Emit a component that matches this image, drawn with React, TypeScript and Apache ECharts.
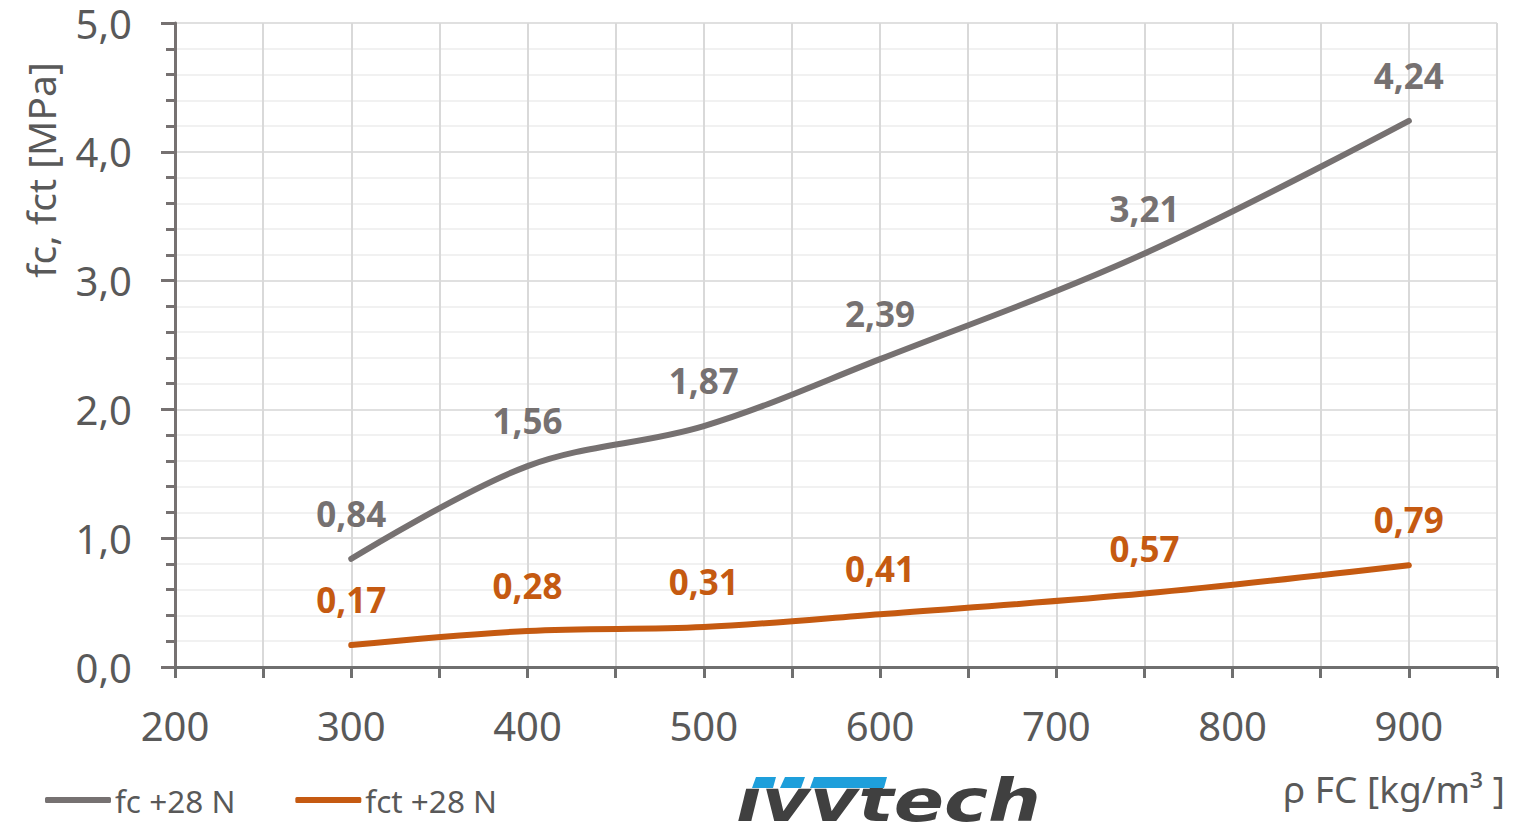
import React, { useEffect, useRef } from "react";
import * as echarts from "echarts";

const xValues = [300, 400, 500, 600, 750, 900];
const fcValues = [0.84, 1.56, 1.87, 2.39, 3.21, 4.24];
const fctValues = [0.17, 0.28, 0.31, 0.41, 0.57, 0.79];
const seriesNames = ["fc +28 N", "fct +28 N"];
const yAxisName = "fc, fct [MPa]";
const xAxisName = "ρ FC [kg/m³ ]";

const FONT = "Noto Sans";
const GRAY = "#767171";
const ORANGE = "#C55A11";
const TEXT = "#595959";

const fmt = (v: number, d: number) => v.toFixed(d).replace(".", ",");

export default function App() {
  const ref = useRef<HTMLDivElement>(null);
  useEffect(() => {
    if (!ref.current) return;
    const chart = echarts.init(ref.current, undefined, { renderer: "svg" });
    const mk = (vals: number[]) => xValues.map((x, i) => [x, vals[i]]);
    const labelFor = (color: string) => ({
      show: true,
      position: "top" as const,
      distance: 28,
      color,
      fontFamily: FONT,
      fontSize: 35,
      fontWeight: "bold" as const,
      formatter: (p: any) => fmt(p.value[1], 2),
    });
    chart.setOption({
      animation: false,
      grid: { left: 175, right: 20, top: 23, bottom: 158, containLabel: false },
      legend: {
        left: 45,
        top: 784,
        padding: 0,
        itemWidth: 66,
        itemHeight: 6,
        itemGap: 60,
        icon: "roundRect",
        textStyle: { fontFamily: FONT, fontSize: 31.5, color: TEXT, padding: [0, 0, 0, -1] },
        data: seriesNames,
      },
      xAxis: {
        type: "value",
        min: 200,
        max: 950,
        interval: 50,
        axisLine: { show: true, lineStyle: { color: "#6f6f6f", width: 3 } },
        axisTick: { show: true, length: 11, lineStyle: { color: "#6f6f6f", width: 3 } },
        axisLabel: {
          margin: 38,
          fontFamily: FONT,
          fontSize: 40,
          color: TEXT,
          formatter: (v: number) => (v % 100 === 0 && v <= 900 ? String(v) : ""),
        },
        splitLine: { show: true, lineStyle: { color: "#d9d9d9", width: 2 } },
      },
      yAxis: {
        type: "value",
        min: 0,
        max: 5,
        interval: 1,
        axisLine: { show: true, lineStyle: { color: GRAY, width: 3 } },
        axisTick: { show: true, length: 14, lineStyle: { color: GRAY, width: 3 } },
        minorTick: { show: true, splitNumber: 5, length: 9, lineStyle: { color: GRAY, width: 3 } },
        axisLabel: {
          margin: 43,
          fontFamily: FONT,
          fontSize: 40,
          lineHeight: 40,
          color: TEXT,
          formatter: (v: number) => fmt(v, 1),
        },
        splitLine: { show: true, lineStyle: { color: "#e0e0e0", width: 2 } },
        minorSplitLine: { show: true, lineStyle: { color: "#f1f1f1", width: 2 } },
      },
      graphic: [
        {
          type: "text",
          x: 40,
          y: 170,
          rotation: Math.PI / 2,
          style: {
            text: yAxisName,
            fontFamily: FONT,
            fontSize: 39,
            fill: TEXT,
            align: "center",
            verticalAlign: "middle",
          },
        },
        {
          type: "text",
          x: 1283,
          y: 788,
          style: {
            text: xAxisName,
            fontFamily: FONT,
            fontSize: 37,
            fill: TEXT,
            align: "left",
            verticalAlign: "middle",
          },
        },
        {
          type: "text",
          x: 736,
          y: 830,
          scaleX: 1.28,
          style: {
            text: "ıvvtech",
            fontFamily: "DejaVu Sans",
            fontStyle: "italic",
            fontWeight: "bold",
            fontSize: 58,
            fill: "#404040",
            align: "left",
            verticalAlign: "bottom",
          },
        },
        {
          type: "polygon",
          shape: { points: [[756, 777], [776, 777], [773, 788], [752, 788]] },
          style: { fill: "#1E9FDB" },
        },
        {
          type: "polygon",
          shape: { points: [[785, 777], [805, 777], [801, 788], [780, 788]] },
          style: { fill: "#1E9FDB" },
        },
        {
          type: "polygon",
          shape: { points: [[814, 777], [887, 777], [884, 788], [810, 788]] },
          style: { fill: "#1E9FDB" },
        },
      ],
      series: [
        {
          name: seriesNames[0],
          type: "line",
          data: mk(fcValues),
          smooth: 0.35,
          symbol: "circle",
          symbolSize: 0,
          lineStyle: { color: GRAY, width: 6, cap: "round" },
          itemStyle: { color: GRAY },
          label: labelFor(GRAY),
        },
        {
          name: seriesNames[1],
          type: "line",
          data: mk(fctValues),
          smooth: 0.35,
          symbol: "circle",
          symbolSize: 0,
          lineStyle: { color: ORANGE, width: 6, cap: "round" },
          itemStyle: { color: ORANGE },
          label: labelFor(ORANGE),
        },
      ],
    });
    return () => chart.dispose();
  }, []);
  return (
    <div
      ref={ref}
      style={{ position: "fixed", left: 0, top: 0, width: 1517, height: 825, background: "#fff" }}
    />
  );
}
